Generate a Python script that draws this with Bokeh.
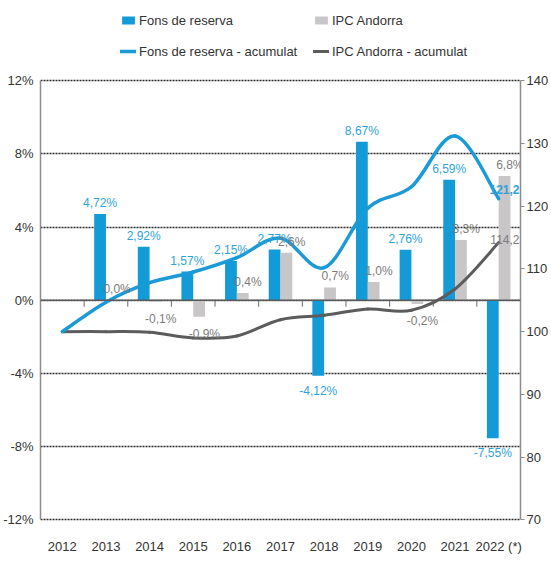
from bokeh.plotting import figure
from bokeh.models import (Range1d, LinearAxis, FixedTicker, ColumnDataSource,
                          Span, Legend, LegendItem)
from bokeh.core.properties import value
from bokeh.embed import file_html
from bokeh.resources import INLINE

# ---------------- data ----------------
years = ["2012", "2013", "2014", "2015", "2016", "2017", "2018", "2019",
         "2020", "2021", "2022 (*)"]
fons = [None, 4.72, 2.92, 1.57, 2.15, 2.77, -4.12, 8.67, 2.76, 6.59, -7.55]
ipc = [None, 0.0, -0.1, -0.9, 0.4, 2.6, 0.7, 1.0, -0.2, 3.3, 6.8]
fons_acum = [100.0, 104.7, 107.8, 109.5, 111.8, 114.9, 110.2, 119.7, 123.1, 131.2, 121.2]
ipc_acum = [100.0, 100.0, 99.9, 99.0, 99.3, 101.9, 102.6, 103.6, 103.4, 106.8, 114.2]
left_ticks = [-12, -8, -4, 0, 4, 8, 12]
right_ticks = [70, 80, 90, 100, 110, 120, 130, 140]

# ---------------- styles / layout ----------------
FONT = "Liberation Sans"
BLUE = "#139bd8"
BLUE_TXT = "#2fa2dc"
GRAY_BAR = "#c9c6c8"
GRAY_TXT = "#7c7c7c"
DARK_LINE = "#5c5c5c"
AXIS_COL = "#8c8c8c"
BW = 0.27
Y_LO, Y_HI = -12.15, 16.39   # upper part of the frame holds the legend

def to_right(v):
    # left-axis value -> right-axis value (both axes share the same pixels)
    k = (right_ticks[-1] - right_ticks[0]) / (left_ticks[-1] - left_ticks[0])
    return right_ticks[0] + (v - left_ticks[0]) * k

p = figure(width=551, height=561, x_range=Range1d(-0.5, 10.5),
           y_range=Range1d(Y_LO, Y_HI),
           output_backend="svg", toolbar_location=None,
           min_border_left=38, min_border_right=28,
           min_border_top=0, min_border_bottom=39)
p.outline_line_color = None
p.background_fill_color = "white"
p.border_fill_color = "white"
p.xgrid.visible = False
p.ygrid.ticker = FixedTicker(ticks=left_ticks)
p.ygrid.grid_line_color = "#2a2a2a"
p.ygrid.grid_line_dash = "2 1"
p.ygrid.grid_line_width = 1.3

# left axis
ya = p.yaxis[0]
ya.ticker = FixedTicker(ticks=left_ticks)
ya.bounds = (left_ticks[0], left_ticks[-1])
ya.major_label_overrides = {t: f"{t}%" for t in left_ticks}
ya.major_tick_line_color = None
ya.major_tick_out = 0
ya.major_tick_in = 0
ya.minor_tick_line_color = None
ya.axis_line_color = AXIS_COL
ya.axis_line_width = 1.5
ya.major_label_standoff = 7
ya.major_label_text_font = FONT
ya.major_label_text_font_size = "13px"
ya.major_label_text_color = "#333333"

# bottom axis (labels only)
xa = p.xaxis[0]
xa.ticker = FixedTicker(ticks=list(range(len(years))))
xa.major_label_overrides = {i: y for i, y in enumerate(years)}
xa.axis_line_color = None
xa.major_tick_line_color = None
xa.major_tick_out = 0
xa.major_tick_in = 0
xa.minor_tick_line_color = None
xa.major_label_standoff = 16
xa.major_label_text_font = FONT
xa.major_label_text_font_size = "13px"
xa.major_label_text_color = "#333333"

# right axis
p.extra_y_ranges = {"idx": Range1d(to_right(Y_LO), to_right(Y_HI))}
ra = LinearAxis(y_range_name="idx", ticker=FixedTicker(ticks=right_ticks))
ra.bounds = (right_ticks[0], right_ticks[-1])
ra.axis_line_color = AXIS_COL
ra.axis_line_width = 1.5
ra.major_tick_line_color = AXIS_COL
ra.major_tick_out = 4
ra.major_tick_in = 0
ra.minor_tick_line_color = None
ra.major_label_standoff = 2
ra.major_label_text_font = FONT
ra.major_label_text_font_size = "13px"
ra.major_label_text_color = "#333333"
p.add_layout(ra, "right")

# ---------------- bars ----------------
def fmt(v, d):
    return f"{v:.{d}f}".replace(".", ",") + "%"

fi = [i for i, v in enumerate(fons) if v is not None]
gi = [i for i, v in enumerate(ipc) if v is not None]
src_f = ColumnDataSource(dict(
    x=[i - BW / 2 for i in fi], top=[fons[i] for i in fi],
    lab=[fmt(fons[i], 2) for i in fi],
    yo=[-11 if fons[i] >= 0 else 15 for i in fi]))
src_g = ColumnDataSource(dict(
    x=[i + BW / 2 for i in gi], xl=[i + BW / 2 + 0.12 for i in gi],
    top=[ipc[i] for i in gi],
    lab=[fmt(ipc[i], 1) for i in gi],
    yo=[-11 if ipc[i] >= 0 else 17 for i in gi]))

rb = p.vbar(x="x", top="top", bottom=0, width=BW, source=src_f,
            fill_color=BLUE, line_color=None)
rg = p.vbar(x="x", top="top", bottom=0, width=BW, source=src_g,
            fill_color=GRAY_BAR, line_color=None)

# zero line and category boundary ticks
p.add_layout(Span(location=0, dimension="width", line_color="#5a5a5a",
                  line_width=1.5))
bnd = ColumnDataSource(dict(x=[i + 0.5 for i in range(len(years) - 1)]))
p.segment(x0="x", x1="x", y0=0, y1=-0.35, source=bnd, line_color="#6a6a6a",
          line_width=1)

# ---------------- smooth cumulative lines ----------------
def bez(vals):
    n = len(vals)
    d = dict(x0=[], y0=[], x1=[], y1=[], cx0=[], cy0=[], cx1=[], cy1=[])
    for i in range(n - 1):
        pi = i - 1 if i > 0 else i
        ni = i + 2 if i + 2 < n else i + 1
        d["x0"].append(i); d["y0"].append(vals[i])
        d["x1"].append(i + 1); d["y1"].append(vals[i + 1])
        d["cx0"].append(i + (i + 1 - pi) / 6)
        d["cy0"].append(vals[i] + (vals[i + 1] - vals[pi]) / 6)
        d["cx1"].append(i + 1 - (ni - i) / 6)
        d["cy1"].append(vals[i + 1] - (vals[ni] - vals[i]) / 6)
    return ColumnDataSource(d)

rl_i = p.bezier(x0="x0", y0="y0", x1="x1", y1="y1", cx0="cx0", cy0="cy0",
                cx1="cx1", cy1="cy1", source=bez(ipc_acum), y_range_name="idx",
                line_color=DARK_LINE, line_width=3, line_cap="round")
rl_f = p.bezier(x0="x0", y0="y0", x1="x1", y1="y1", cx0="cx0", cy0="cy0",
                cx1="cx1", cy1="cy1", source=bez(fons_acum), y_range_name="idx",
                line_color="#1a9ad7", line_width=3.5, line_cap="round")

# ---------------- labels ----------------
p.text(x="x", y="top", text="lab", source=src_f, y_offset="yo",
       text_align="center", text_baseline="middle", text_color=BLUE_TXT,
       text_font=value(FONT), text_font_size="12px")
p.text(x="xl", y="top", text="lab", source=src_g, y_offset="yo",
       text_align="center", text_baseline="middle", text_color=GRAY_TXT,
       text_font=value(FONT), text_font_size="12px")

last = len(years) - 1
end_src = ColumnDataSource(dict(
    x=[last + 0.5, last + 0.5], y=[fons_acum[-1], ipc_acum[-1]],
    t=[f"{fons_acum[-1]:.1f}".replace(".", ","), f"{ipc_acum[-1]:.1f}".replace(".", ",")],
    c=[BLUE_TXT, GRAY_TXT], yo=[-9, -3], w=["bold", "normal"]))
p.text(x="x", y="y", text="t", source=end_src, y_range_name="idx",
       x_offset=-1, y_offset="yo", text_align="right", text_baseline="middle",
       text_color="c", text_font=value(FONT), text_font_size="12px",
       text_font_style="w")

# ---------------- legend (inside the upper, empty part of the frame) ----------------
legend = Legend(items=[
    LegendItem(label="Fons de reserva", renderers=[rb]),
    LegendItem(label="IPC Andorra", renderers=[rg]),
    LegendItem(label="Fons de reserva - acumulat", renderers=[rl_f]),
    LegendItem(label="IPC Andorra - acumulat", renderers=[rl_i]),
], orientation="horizontal", ncols=2, location=(80, 463))
legend.padding = 0
legend.margin = 0
legend.spacing = 15
legend.glyph_width = 16
legend.glyph_height = 10
legend.label_height = 16
legend.label_width = 159
legend.label_standoff = 3
legend.label_text_font = FONT
legend.label_text_font_size = "13px"
legend.label_text_color = "#333333"
legend.border_line_color = None
legend.background_fill_alpha = 0
p.add_layout(legend)

open("out.html", "w").write(file_html(p, INLINE))
